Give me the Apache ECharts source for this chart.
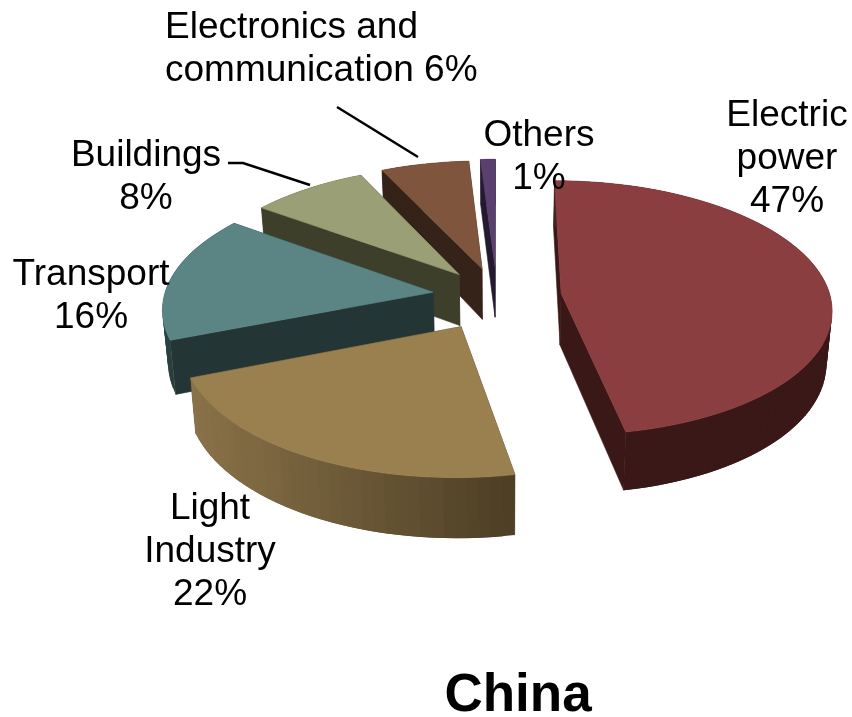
<!DOCTYPE html>
<html>
<head>
<meta charset="utf-8">
<style>html,body{margin:0;padding:0;background:#fff}#main{width:852px;height:717px}</style>
<script src="https://cdn.jsdelivr.net/npm/echarts@6/dist/echarts.min.js"></script>
</head>
<body>
<div id="main"></div>
<script>
// Coal consumption shares by sector
const categories = ['Electric power', 'Light Industry', 'Transport', 'Buildings', 'Electronics and communication', 'Others'];
const shares = [47, 22, 16, 8, 6, 1];

// Slice colours: top face, cut faces, outer wall at its left and right ends
const topColors = ['#8b3e3f', '#9b804f', '#5b8585', '#9a9f76', '#80553d', '#5b3f6e'];
const cutColors = ['#3a1818', '#4f4026', '#233535', '#3d3f2b', '#35231a', '#241a30'];
const wallLeft = ['#4a221d', '#8a7249', '#2c4040', '#3d3f2b', '#35231a', '#241a30'];
const wallRight = ['#391817', '#4c3e24', '#233535', '#3d3f2b', '#35231a', '#241a30'];
// Share of the wall's width over which its shade changes
const wallFade = [0.18, 1, 1, 1, 1, 1];
// Painting order, far slices first
const paintRank = [5, 4, 3, 2, 1, 0];
// How far each slice is pulled out of the disc
const explode = [0.24, 0.27, 0.24, 0.225, 0.23, 0.24];

// Tilted disc projection
const CX = 497, CY = 296, RX = 269, RY = 126, PERSP = 0.115;
const DEPTH = 52, BOTTOM_SCALE = 0.983, BANDS = 40;

function project(wx, wy) {
  const f = 1 / (1 - PERSP * wy);
  return [CX + RX * wx * f, CY + RY * wy * f, f];
}
function drop(p) {
  return [CX + (p[0] - CX) * BOTTOM_SCALE, p[1] + DEPTH * p[2]];
}
function mix(a, b, t) {
  const pa = [1, 3, 5].map(i => parseInt(a.substr(i, 2), 16));
  const pb = [1, 3, 5].map(i => parseInt(b.substr(i, 2), 16));
  return 'rgb(' + pa.map((v, i) => Math.round(v + (pb[i] - v) * t)).join(',') + ')';
}
const total = shares.reduce((s, v) => s + v, 0);

function renderSlice(params, api) {
  const idx = api.value(0);
  let before = 0;
  for (let i = 0; i < idx; i++) before += shares[i];
  const start = before / total * 2 * Math.PI;
  const end = (before + api.value(1)) / total * 2 * Math.PI;
  const mid = (start + end) / 2;
  const ox = explode[idx] * Math.sin(mid), oy = -explode[idx] * Math.cos(mid);
  const apex = project(ox, oy);
  const steps = Math.max(3, Math.ceil((end - start) / (2 * Math.PI) * 160));
  const arc = [];
  for (let i = 0; i <= steps; i++) {
    const a = start + (end - start) * i / steps;
    arc.push(project(ox + Math.sin(a), oy - Math.cos(a)));
  }
  const base = paintRank[idx] * 1000;
  const children = [];
  let seq = 0;
  const poly = (pts, fill, z, stroked) => children.push({
    type: 'polygon',
    z2: base + z + (seq++) * 0.001,
    shape: { points: pts.map(p => [p[0], p[1]]) },
    style: stroked ? { fill: fill, stroke: fill, lineWidth: 0.6 } : { fill: fill }
  });
  // Cut faces
  [arc[0], arc[steps]].forEach(p => {
    poly([apex, p, drop(p), drop(apex)], cutColors[idx], 1, true);
  });
  // Outer wall, shaded in bands that overlap the next one so no seams show
  const xs = arc.map(p => p[0]);
  const minX = Math.min.apply(null, xs), maxX = Math.max.apply(null, xs);
  for (let i = 0; i < steps; i++) {
    const p = arc[i], q = arc[Math.min(i + 2, steps)];
    const raw = ((arc[i][0] + arc[i + 1][0]) / 2 - minX) / Math.max(1, maxX - minX);
    const t = Math.min(1, Math.round(raw * BANDS) / BANDS / wallFade[idx]);
    poly([p, q, drop(q), drop(p)], mix(wallLeft[idx], wallRight[idx], t), 2, false);
  }
  // Top face
  poly([apex].concat(arc), topColors[idx], 3, true);
  return { type: 'group', children: children };
}

const labelStyle = { fill: '#000', font: '37px "Liberation Sans", Arial, sans-serif', lineHeight: 43 };
function label(text, x, y, align) {
  return {
    type: 'text', x: x, y: y, z: 10,
    style: Object.assign({ text: text, align: align || 'center', verticalAlign: 'middle' }, labelStyle)
  };
}

const chart = echarts.init(document.getElementById('main'), null, { renderer: 'canvas' });
chart.setOption({
  animation: false,
  backgroundColor: '#fff',
  series: [{
    type: 'custom',
    coordinateSystem: 'none',
    renderItem: renderSlice,
    data: shares.map((v, i) => ({ name: categories[i], value: [i, v] }))
  }],
  graphic: [
    label('Electric\npower\n47%', 787, 159),
    label('Others\n1%', 539, 157),
    label('Electronics and\ncommunication 6%', 165, 49, 'left'),
    label('Buildings\n8%', 146, 177),
    label('Transport\n16%', 91, 296),
    label('Light\nIndustry\n22%', 210, 552),
    {
      type: 'text', x: 518, y: 696, z: 10,
      style: { text: 'China', fill: '#000', font: 'bold 53px "Liberation Sans", Arial, sans-serif', align: 'center', verticalAlign: 'middle' }
    },
    {
      type: 'polyline', z: 10,
      shape: { points: [[337, 107], [418, 157]] },
      style: { stroke: '#000', lineWidth: 2.5, fill: null }
    },
    {
      type: 'polyline', z: 10,
      shape: { points: [[228, 163], [243, 163], [310, 185]] },
      style: { stroke: '#000', lineWidth: 2.5, fill: null }
    }
  ]
});
</script>
</body>
</html>
